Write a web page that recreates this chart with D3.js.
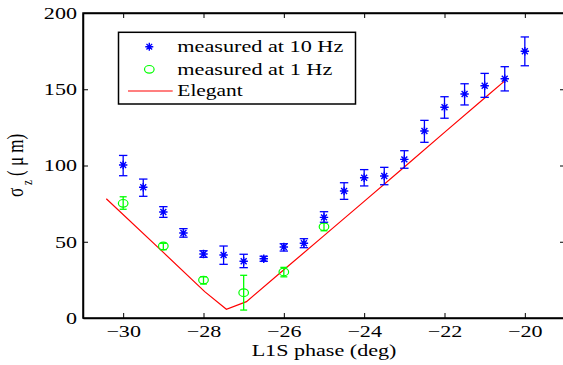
<!DOCTYPE html>
<html>
<head>
<meta charset="utf-8">
<script src="https://cdn.jsdelivr.net/npm/d3@7"></script>
<style>
  body { margin: 0; background: #fff; }
  svg { display: block; }
</style>
</head>
<body>
<div id="chart"></div>
<script>
// measured at 10 Hz
const phase10 = [-30, -29.5, -29, -28.5, -28, -27.5, -27, -26.5, -26, -25.5, -25,
  -24.5, -24, -23.5, -23, -22.5, -22, -21.5, -21, -20.5, -20];
const sigma10 = [100.3, 85.7, 69.5, 55.7, 42, 41.3, 37.2, 38.9, 46.6, 49, 66,
  83.3, 92, 93.1, 104, 122.6, 138.2, 146.9, 152.3, 156.9, 174.9];
const low10 = [93.3, 79.8, 66, 53, 39.8, 35.2, 33, 37.2, 43.9, 46.1, 62.8,
  77.8, 86.6, 87.4, 98.2, 115.2, 131, 139.7, 144.7, 148.9, 165.4];
const high10 = [106.6, 91.1, 73, 58.6, 44.1, 47.2, 41.8, 40.5, 48.7, 52, 69.7,
  88.7, 97.3, 98.8, 109.7, 129.6, 145.1, 153.6, 160.4, 164.8, 184.3];

// measured at 1 Hz
const phase1 = [-30, -29, -28, -27, -26, -25];
const sigma1 = [75.2, 47.2, 24.9, 16.6, 30.2, 59.9];
const low1 = [71.3, 44.8, 22.3, 5.2, 27, 57.2];
const high1 = [79.5, 49, 27, 28, 33.2, 62.5];

// Elegant simulation
const modelPhase = [-30.42, -29, -27.97, -27.43, -26.93, -26, -25, -24, -23, -22, -21, -20.5];
const modelSigma = [78.2, 43, 17.3, 5.7, 10.7, 31.6, 54, 76.5, 99, 121.7, 144.3, 155.5];

const xTicks = [-30, -28, -26, -24, -22, -20];
const yTicks = [0, 50, 100, 150, 200];
const legendLabels = ["measured at 10 Hz", "measured at 1 Hz", "Elegant"];

const W = 563, H = 365;
const SX = 1.3; // the picture is stretched sideways, text too
const FS = 17;
const FONT = "Liberation Serif";

const svg = d3.select("#chart").append("svg")
  .attr("width", W).attr("height", H);

const x = d3.scaleLinear().domain([-31, -19]).range([83, 565]);
const y = d3.scaleLinear().domain([0, 200]).range([318, 13]);

const blue = "#0000ff", green = "#00ff00", red = "#ff0000";

// frame
svg.append("rect")
  .attr("x", x(-31)).attr("y", y(200))
  .attr("width", x(-19) - x(-31)).attr("height", y(0) - y(200))
  .attr("fill", "none").attr("stroke", "#000").attr("stroke-width", 1.5);

// axes, ticks pointing inward
const bottom = svg.append("g")
  .attr("transform", `translate(0,${y(0)})`)
  .call(d3.axisBottom(x).tickValues(xTicks).tickSize(-5).tickSizeOuter(0));
const left = svg.append("g")
  .attr("transform", `translate(${x(-31)},0)`)
  .call(d3.axisLeft(y).tickValues(yTicks).tickSize(-5).tickSizeOuter(0));
svg.append("g")
  .attr("transform", `translate(0,${y(200)})`)
  .call(d3.axisTop(x).tickValues(xTicks).tickSize(-5).tickSizeOuter(0).tickFormat(""));
svg.append("g")
  .attr("transform", `translate(${x(-19)},0)`)
  .call(d3.axisRight(y).tickValues(yTicks).tickSize(-5).tickSizeOuter(0).tickFormat(""));

svg.selectAll(".domain").attr("stroke", "#000").attr("stroke-width", 1.5);
svg.selectAll(".tick line").attr("stroke", "#000").attr("stroke-width", 1);

bottom.selectAll("text")
  .attr("y", null).attr("dy", null)
  .attr("font-family", FONT).attr("font-size", FS).attr("fill", "#000")
  .attr("transform", `translate(0,19) scale(${SX},1)`);
left.selectAll("text")
  .attr("x", null).attr("dy", "0.32em")
  .attr("font-family", FONT).attr("font-size", FS).attr("fill", "#000")
  .attr("transform", `translate(-6,0) scale(${SX},1)`);

// axis titles
svg.append("text")
  .attr("font-family", FONT)
  .attr("text-anchor", "middle")
  .attr("font-size", FS)
  .attr("transform", `translate(${(x(-31) + x(-19)) / 2},356) scale(${SX},1)`)
  .text("L1S phase (deg)");

const yLab = svg.append("text")
  .attr("font-family", FONT)
  .attr("font-size", FS)
  .attr("transform", `translate(23,197) scale(${SX},1) rotate(-90)`);
yLab.append("tspan").text("σ");
yLab.append("tspan").attr("dy", 7).attr("font-size", 11).text(" z");
yLab.append("tspan").attr("dy", -7).text(" ( μ m)");

// Elegant line
svg.append("path")
  .datum(d3.zip(modelPhase, modelSigma))
  .attr("fill", "none").attr("stroke", red).attr("stroke-width", 1.2)
  .attr("d", d3.line().x(d => x(d[0])).y(d => y(d[1])));

function errorBars(g, px, lo, hi, color, cap) {
  const bars = g.selectAll("g.bar").data(d3.range(px.length)).join("g").attr("class", "bar")
    .attr("stroke", color).attr("stroke-width", 1.3);
  bars.append("line")
    .attr("x1", i => x(px[i])).attr("x2", i => x(px[i]))
    .attr("y1", i => y(lo[i])).attr("y2", i => y(hi[i]));
  bars.append("line")
    .attr("x1", i => x(px[i]) - cap).attr("x2", i => x(px[i]) + cap)
    .attr("y1", i => y(lo[i])).attr("y2", i => y(lo[i]));
  bars.append("line")
    .attr("x1", i => x(px[i]) - cap).attr("x2", i => x(px[i]) + cap)
    .attr("y1", i => y(hi[i])).attr("y2", i => y(hi[i]));
}

// asterisk marker: + and x
function star(sel, r) {
  const d = r * Math.SQRT1_2;
  return sel.attr("d", `M${-r},0H${r}M0,${-r}V${r}M${-d},${-d}L${d},${d}M${-d},${d}L${d},${-d}`)
    .attr("fill", "none").attr("stroke", blue).attr("stroke-width", 1.4);
}

const g1 = svg.append("g");
errorBars(g1, phase1, low1, high1, green, 3.5);
g1.selectAll("ellipse").data(d3.range(phase1.length)).join("ellipse")
  .attr("cx", i => x(phase1[i])).attr("cy", i => y(sigma1[i]))
  .attr("rx", 4.8).attr("ry", 3.8)
  .attr("fill", "none").attr("stroke", green).attr("stroke-width", 1.2);

const g10 = svg.append("g");
errorBars(g10, phase10, low10, high10, blue, 4.2);
g10.selectAll("path.star").data(d3.range(phase10.length)).join("path").attr("class", "star")
  .attr("transform", i => `translate(${x(phase10[i])},${y(sigma10[i])})`)
  .call(star, 4.2);

// legend
const leg = svg.append("g");
leg.append("rect")
  .attr("x", 118.5).attr("y", 32.3).attr("width", 237).attr("height", 71.7)
  .attr("fill", "#fff").attr("stroke", "#000").attr("stroke-width", 1.5);
const rowsY = [46.7, 69.3, 91];
const legWidths = [166, 155, 65.5];
star(leg.append("path").attr("transform", `translate(149.3,${rowsY[0]})`), 4);
leg.append("ellipse").attr("cx", 149.3).attr("cy", rowsY[1]).attr("rx", 4.8).attr("ry", 3.8)
  .attr("fill", "none").attr("stroke", green).attr("stroke-width", 1.2);
leg.append("line").attr("x1", 128).attr("x2", 172.7).attr("y1", rowsY[2]).attr("y2", rowsY[2])
  .attr("stroke", red).attr("stroke-width", 1.2);
leg.selectAll("text").data(legendLabels).join("text")
  .attr("font-family", FONT)
  .attr("font-size", FS).attr("dy", "0.32em")
  .attr("x", 177.3).attr("y", (d, i) => rowsY[i])
  .attr("textLength", (d, i) => legWidths[i])
  .attr("lengthAdjust", "spacingAndGlyphs")
  .text(d => d);
</script>
</body>
</html>
